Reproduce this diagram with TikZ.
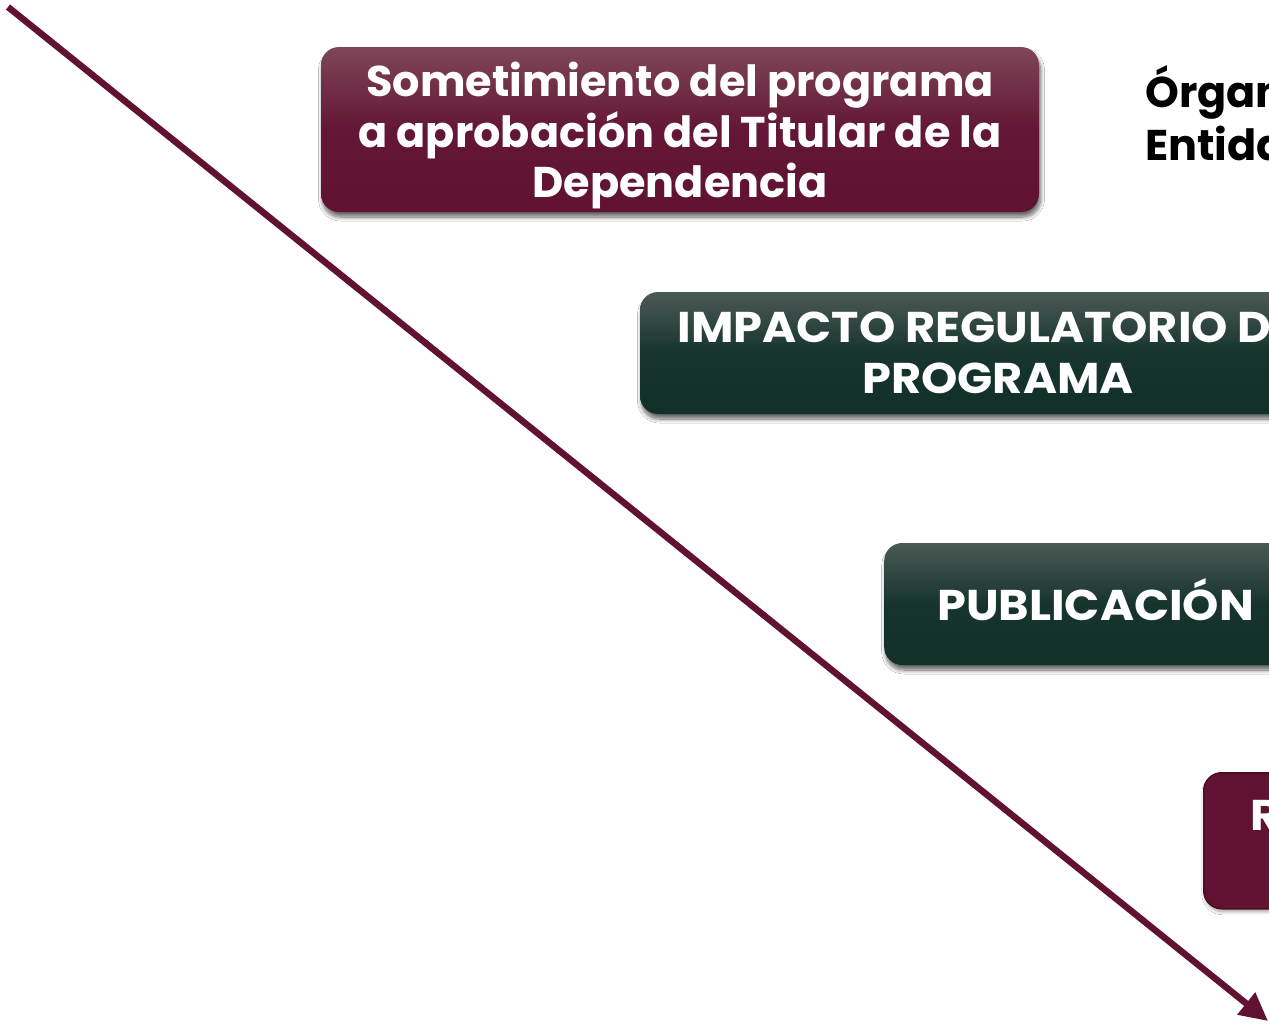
\documentclass[tikz,border=0pt]{standalone}
\usepackage{fontspec}
\setmainfont{Poppins}
\newfontfamily\capsfont{Poppins}[FakeStretch=1.075]
\usetikzlibrary{arrows.meta,shadows.blur}
\definecolor{guinda}{HTML}{611232}
\definecolor{guindatop}{HTML}{7E4658}
\definecolor{guindaborder}{HTML}{4A0C25}
\definecolor{verde}{HTML}{12302A}
\definecolor{verdetop}{HTML}{4B5A55}
\tikzset{
  boxbase/.style={rounded corners=18pt, inner sep=0pt,
    blur shadow={shadow xshift=1.5pt, shadow yshift=-5pt, shadow blur radius=4pt, shadow blur steps=10, shadow opacity=60}},
  guindabox/.style={boxbase, top color=guindatop, bottom color=guinda, middle color=guinda!92!guindatop},
  verdebox/.style={boxbase, top color=verdetop, bottom color=verde, middle color=verde!92!verdetop},
  solidbox/.style={rounded corners=18pt, fill=guinda, draw=guindaborder, line width=1.5pt, inner sep=0pt,
    blur shadow={shadow xshift=1pt, shadow yshift=-3pt, shadow blur radius=3pt, shadow blur steps=8, shadow opacity=35}},
  lowtext/.style={anchor=base, font=\bfseries\fontsize{43}{51}\selectfont, text=white, inner sep=0pt},
  captext/.style={anchor=base, font=\capsfont\bfseries\fontsize{43}{51}\selectfont, text=white, inner sep=0pt},
  blacktext/.style={anchor=base west, font=\bfseries\fontsize{43}{51}\selectfont, text=black, inner sep=0pt},
  arrowline/.style={draw=guinda, line width=6.5pt, -{Triangle[length=28pt,width=27pt]}}
}
\begin{document}
\begin{tikzpicture}[x=1pt,y=-1pt]
\useasboundingbox (0,0) rectangle (1269,1023);
\clip (0,0) rectangle (1269,1023);
\fill[white] (0,0) rectangle (1269,1023);

% box 1
\node[guindabox, minimum width=718pt, minimum height=165pt] (b1) at (680,129.5) {};
\node[lowtext] (t1a) at (680,96) {Sometimiento del programa};
\node[lowtext] (t1b) at (680,147) {a aprobación del Titular de la};
\node[lowtext] (t1c) at (680,197) {Dependencia};

% box 2
\node[verdebox, minimum width=716pt, minimum height=122pt] (b2) at (998,353) {};
\node[captext] (t2a) at (998,342) {IMPACTO REGULATORIO DEL};
\node[captext] (t2b) at (998,393) {PROGRAMA};

% box 3
\node[verdebox, anchor=west, minimum width=700pt, minimum height=122pt] (b3) at (884,604) {};
\node[captext, anchor=base west] (t3) at (937,620) {PUBLICACIÓN};

% box 4
\node[solidbox, anchor=north west, minimum width=400pt, minimum height=136pt] (b4) at (1203,772) {};
\node[captext, anchor=base west] (t4) at (1250,830) {R};

% side text
\node[blacktext] (org1) at (1145,107) {Órgano};
\node[blacktext] (org2) at (1145,160) {Entidad};

\coordinate (a0) at (8,7);
\coordinate (a1) at (1268,1021);
\draw[arrowline] (a0) -- (a1);
\end{tikzpicture}
\end{document}
